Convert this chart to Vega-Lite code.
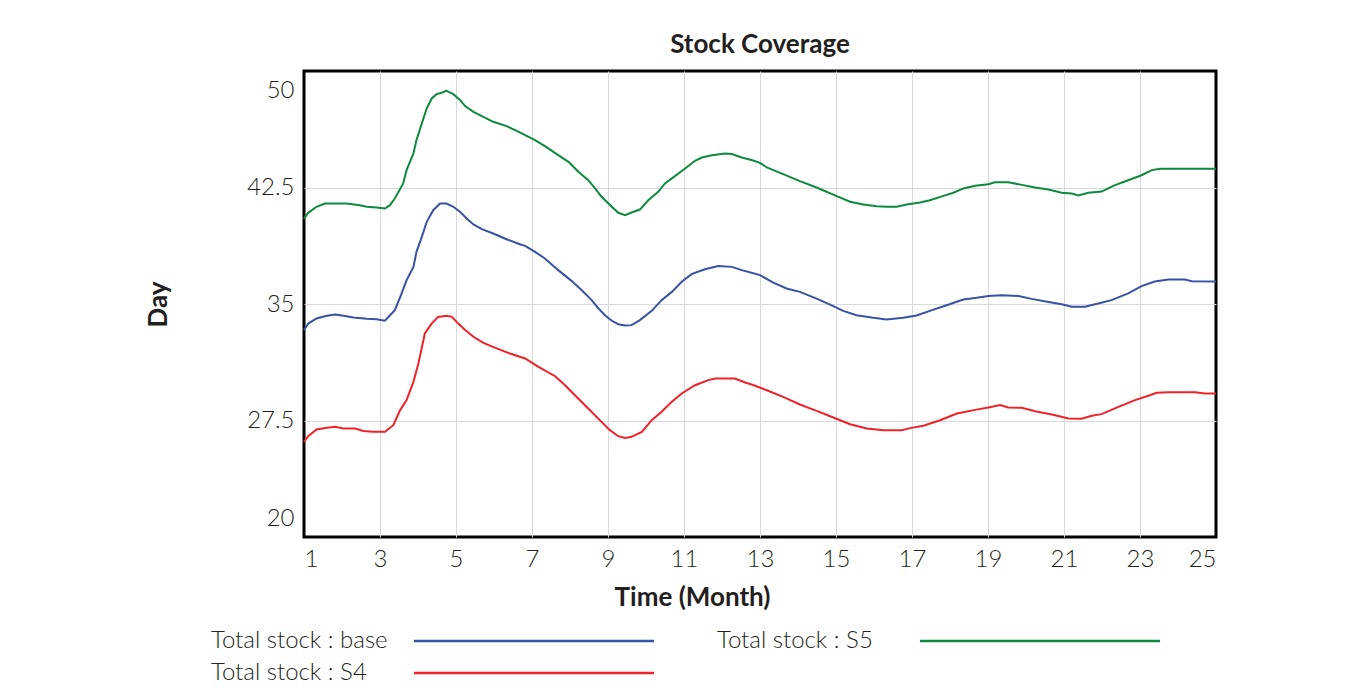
{
  "$schema": "https://vega.github.io/schema/vega-lite/v6.json",
  "width": 912,
  "height": 466,
  "autosize": {"type": "none"},
  "padding": {"left": 304, "top": 71, "right": 144, "bottom": 153},
  "background": "white",
  "title": {"text": "Stock Coverage", "font": "Lato", "fontWeight": "bold", "fontSize": 26, "color": "#231f20", "anchor": "middle", "offset": 13},
  "config": {
    "view": {"stroke": "black", "strokeWidth": 3},
    "axis": {"labelFont": "Lato", "labelFontWeight": 300, "labelFontSize": 24, "labelColor": "#231f20", "titleFont": "Lato", "titleFontWeight": "bold", "titleFontSize": 26, "titleColor": "#231f20", "domain": false, "ticks": false, "gridColor": "#d9d9d9", "gridWidth": 1}
  },
  "data": {"values": [
    {"s": "Total stock : S5", "m": 1.0, "v": 40.5}, {"s": "Total stock : S5", "m": 1.11, "v": 40.87}, {"s": "Total stock : S5", "m": 1.33, "v": 41.26}, {"s": "Total stock : S5", "m": 1.55, "v": 41.47}, {"s": "Total stock : S5", "m": 1.77, "v": 41.47}, {"s": "Total stock : S5", "m": 2.12, "v": 41.47}, {"s": "Total stock : S5", "m": 2.47, "v": 41.36}, {"s": "Total stock : S5", "m": 2.65, "v": 41.26}, {"s": "Total stock : S5", "m": 2.91, "v": 41.21}, {"s": "Total stock : S5", "m": 3.13, "v": 41.15}, {"s": "Total stock : S5", "m": 3.26, "v": 41.36}, {"s": "Total stock : S5", "m": 3.39, "v": 41.79}, {"s": "Total stock : S5", "m": 3.61, "v": 42.76}, {"s": "Total stock : S5", "m": 3.7, "v": 43.62}, {"s": "Total stock : S5", "m": 3.88, "v": 44.69}, {"s": "Total stock : S5", "m": 3.96, "v": 45.55}, {"s": "Total stock : S5", "m": 4.1, "v": 46.62}, {"s": "Total stock : S5", "m": 4.23, "v": 47.59}, {"s": "Total stock : S5", "m": 4.36, "v": 48.23}, {"s": "Total stock : S5", "m": 4.49, "v": 48.51}, {"s": "Total stock : S5", "m": 4.62, "v": 48.6}, {"s": "Total stock : S5", "m": 4.75, "v": 48.72}, {"s": "Total stock : S5", "m": 4.93, "v": 48.51}, {"s": "Total stock : S5", "m": 5.11, "v": 48.12}, {"s": "Total stock : S5", "m": 5.24, "v": 47.74}, {"s": "Total stock : S5", "m": 5.46, "v": 47.37}, {"s": "Total stock : S5", "m": 5.72, "v": 47.05}, {"s": "Total stock : S5", "m": 5.98, "v": 46.73}, {"s": "Total stock : S5", "m": 6.33, "v": 46.45}, {"s": "Total stock : S5", "m": 6.6, "v": 46.15}, {"s": "Total stock : S5", "m": 6.82, "v": 45.87}, {"s": "Total stock : S5", "m": 7.08, "v": 45.55}, {"s": "Total stock : S5", "m": 7.34, "v": 45.16}, {"s": "Total stock : S5", "m": 7.69, "v": 44.58}, {"s": "Total stock : S5", "m": 7.96, "v": 44.15}, {"s": "Total stock : S5", "m": 8.22, "v": 43.51}, {"s": "Total stock : S5", "m": 8.48, "v": 42.97}, {"s": "Total stock : S5", "m": 8.66, "v": 42.44}, {"s": "Total stock : S5", "m": 8.83, "v": 41.9}, {"s": "Total stock : S5", "m": 9.1, "v": 41.26}, {"s": "Total stock : S5", "m": 9.27, "v": 40.87}, {"s": "Total stock : S5", "m": 9.45, "v": 40.72}, {"s": "Total stock : S5", "m": 9.62, "v": 40.89}, {"s": "Total stock : S5", "m": 9.84, "v": 41.08}, {"s": "Total stock : S5", "m": 10.06, "v": 41.68}, {"s": "Total stock : S5", "m": 10.32, "v": 42.22}, {"s": "Total stock : S5", "m": 10.5, "v": 42.76}, {"s": "Total stock : S5", "m": 10.76, "v": 43.23}, {"s": "Total stock : S5", "m": 11.03, "v": 43.72}, {"s": "Total stock : S5", "m": 11.29, "v": 44.22}, {"s": "Total stock : S5", "m": 11.47, "v": 44.43}, {"s": "Total stock : S5", "m": 11.73, "v": 44.58}, {"s": "Total stock : S5", "m": 12.08, "v": 44.69}, {"s": "Total stock : S5", "m": 12.26, "v": 44.65}, {"s": "Total stock : S5", "m": 12.52, "v": 44.43}, {"s": "Total stock : S5", "m": 12.8, "v": 44.25}, {"s": "Total stock : S5", "m": 13.0, "v": 44.09}, {"s": "Total stock : S5", "m": 13.18, "v": 43.79}, {"s": "Total stock : S5", "m": 13.61, "v": 43.36}, {"s": "Total stock : S5", "m": 14.05, "v": 42.91}, {"s": "Total stock : S5", "m": 14.49, "v": 42.5}, {"s": "Total stock : S5", "m": 15.02, "v": 41.94}, {"s": "Total stock : S5", "m": 15.37, "v": 41.58}, {"s": "Total stock : S5", "m": 15.72, "v": 41.41}, {"s": "Total stock : S5", "m": 16.07, "v": 41.3}, {"s": "Total stock : S5", "m": 16.33, "v": 41.26}, {"s": "Total stock : S5", "m": 16.6, "v": 41.26}, {"s": "Total stock : S5", "m": 16.86, "v": 41.41}, {"s": "Total stock : S5", "m": 17.21, "v": 41.53}, {"s": "Total stock : S5", "m": 17.47, "v": 41.68}, {"s": "Total stock : S5", "m": 17.83, "v": 41.96}, {"s": "Total stock : S5", "m": 18.09, "v": 42.16}, {"s": "Total stock : S5", "m": 18.35, "v": 42.44}, {"s": "Total stock : S5", "m": 18.66, "v": 42.61}, {"s": "Total stock : S5", "m": 19.01, "v": 42.71}, {"s": "Total stock : S5", "m": 19.18, "v": 42.84}, {"s": "Total stock : S5", "m": 19.53, "v": 42.84}, {"s": "Total stock : S5", "m": 19.89, "v": 42.67}, {"s": "Total stock : S5", "m": 20.24, "v": 42.5}, {"s": "Total stock : S5", "m": 20.59, "v": 42.37}, {"s": "Total stock : S5", "m": 20.94, "v": 42.16}, {"s": "Total stock : S5", "m": 21.2, "v": 42.11}, {"s": "Total stock : S5", "m": 21.38, "v": 41.98}, {"s": "Total stock : S5", "m": 21.64, "v": 42.16}, {"s": "Total stock : S5", "m": 21.99, "v": 42.24}, {"s": "Total stock : S5", "m": 22.34, "v": 42.65}, {"s": "Total stock : S5", "m": 22.69, "v": 42.97}, {"s": "Total stock : S5", "m": 23.04, "v": 43.29}, {"s": "Total stock : S5", "m": 23.31, "v": 43.62}, {"s": "Total stock : S5", "m": 23.53, "v": 43.7}, {"s": "Total stock : S5", "m": 23.92, "v": 43.7}, {"s": "Total stock : S5", "m": 25.0, "v": 43.7},
    {"s": "Total stock : base", "m": 1.0, "v": 33.32}, {"s": "Total stock : base", "m": 1.11, "v": 33.74}, {"s": "Total stock : base", "m": 1.33, "v": 34.07}, {"s": "Total stock : base", "m": 1.6, "v": 34.24}, {"s": "Total stock : base", "m": 1.82, "v": 34.32}, {"s": "Total stock : base", "m": 2.04, "v": 34.24}, {"s": "Total stock : base", "m": 2.3, "v": 34.13}, {"s": "Total stock : base", "m": 2.65, "v": 34.05}, {"s": "Total stock : base", "m": 2.91, "v": 34.02}, {"s": "Total stock : base", "m": 3.13, "v": 33.92}, {"s": "Total stock : base", "m": 3.39, "v": 34.6}, {"s": "Total stock : base", "m": 3.57, "v": 35.68}, {"s": "Total stock : base", "m": 3.7, "v": 36.53}, {"s": "Total stock : base", "m": 3.88, "v": 37.39}, {"s": "Total stock : base", "m": 3.96, "v": 38.36}, {"s": "Total stock : base", "m": 4.1, "v": 39.32}, {"s": "Total stock : base", "m": 4.23, "v": 40.29}, {"s": "Total stock : base", "m": 4.4, "v": 41.04}, {"s": "Total stock : base", "m": 4.58, "v": 41.47}, {"s": "Total stock : base", "m": 4.75, "v": 41.47}, {"s": "Total stock : base", "m": 4.93, "v": 41.26}, {"s": "Total stock : base", "m": 5.11, "v": 40.93}, {"s": "Total stock : base", "m": 5.28, "v": 40.5}, {"s": "Total stock : base", "m": 5.46, "v": 40.12}, {"s": "Total stock : base", "m": 5.68, "v": 39.82}, {"s": "Total stock : base", "m": 5.98, "v": 39.54}, {"s": "Total stock : base", "m": 6.33, "v": 39.17}, {"s": "Total stock : base", "m": 6.68, "v": 38.85}, {"s": "Total stock : base", "m": 6.82, "v": 38.74}, {"s": "Total stock : base", "m": 7.08, "v": 38.36}, {"s": "Total stock : base", "m": 7.34, "v": 37.93}, {"s": "Total stock : base", "m": 7.69, "v": 37.18}, {"s": "Total stock : base", "m": 8.04, "v": 36.49}, {"s": "Total stock : base", "m": 8.31, "v": 35.89}, {"s": "Total stock : base", "m": 8.57, "v": 35.25}, {"s": "Total stock : base", "m": 8.75, "v": 34.71}, {"s": "Total stock : base", "m": 8.92, "v": 34.28}, {"s": "Total stock : base", "m": 9.1, "v": 33.92}, {"s": "Total stock : base", "m": 9.27, "v": 33.7}, {"s": "Total stock : base", "m": 9.45, "v": 33.62}, {"s": "Total stock : base", "m": 9.62, "v": 33.64}, {"s": "Total stock : base", "m": 9.84, "v": 33.96}, {"s": "Total stock : base", "m": 10.15, "v": 34.56}, {"s": "Total stock : base", "m": 10.41, "v": 35.25}, {"s": "Total stock : base", "m": 10.68, "v": 35.78}, {"s": "Total stock : base", "m": 10.94, "v": 36.43}, {"s": "Total stock : base", "m": 11.2, "v": 36.92}, {"s": "Total stock : base", "m": 11.55, "v": 37.24}, {"s": "Total stock : base", "m": 11.9, "v": 37.44}, {"s": "Total stock : base", "m": 12.26, "v": 37.39}, {"s": "Total stock : base", "m": 12.52, "v": 37.18}, {"s": "Total stock : base", "m": 12.8, "v": 37.0}, {"s": "Total stock : base", "m": 13.0, "v": 36.86}, {"s": "Total stock : base", "m": 13.35, "v": 36.38}, {"s": "Total stock : base", "m": 13.7, "v": 36.0}, {"s": "Total stock : base", "m": 14.05, "v": 35.78}, {"s": "Total stock : base", "m": 14.49, "v": 35.35}, {"s": "Total stock : base", "m": 14.93, "v": 34.86}, {"s": "Total stock : base", "m": 15.19, "v": 34.56}, {"s": "Total stock : base", "m": 15.54, "v": 34.28}, {"s": "Total stock : base", "m": 15.98, "v": 34.11}, {"s": "Total stock : base", "m": 16.33, "v": 34.0}, {"s": "Total stock : base", "m": 16.77, "v": 34.11}, {"s": "Total stock : base", "m": 17.12, "v": 34.26}, {"s": "Total stock : base", "m": 17.47, "v": 34.56}, {"s": "Total stock : base", "m": 17.91, "v": 34.92}, {"s": "Total stock : base", "m": 18.35, "v": 35.29}, {"s": "Total stock : base", "m": 18.7, "v": 35.4}, {"s": "Total stock : base", "m": 19.01, "v": 35.52}, {"s": "Total stock : base", "m": 19.36, "v": 35.56}, {"s": "Total stock : base", "m": 19.8, "v": 35.52}, {"s": "Total stock : base", "m": 20.15, "v": 35.33}, {"s": "Total stock : base", "m": 20.59, "v": 35.13}, {"s": "Total stock : base", "m": 20.94, "v": 34.98}, {"s": "Total stock : base", "m": 21.2, "v": 34.82}, {"s": "Total stock : base", "m": 21.55, "v": 34.82}, {"s": "Total stock : base", "m": 21.9, "v": 35.03}, {"s": "Total stock : base", "m": 22.25, "v": 35.25}, {"s": "Total stock : base", "m": 22.69, "v": 35.68}, {"s": "Total stock : base", "m": 23.04, "v": 36.15}, {"s": "Total stock : base", "m": 23.39, "v": 36.45}, {"s": "Total stock : base", "m": 23.75, "v": 36.58}, {"s": "Total stock : base", "m": 24.18, "v": 36.58}, {"s": "Total stock : base", "m": 24.36, "v": 36.47}, {"s": "Total stock : base", "m": 25.0, "v": 36.45},
    {"s": "Total stock : S4", "m": 1.0, "v": 26.13}, {"s": "Total stock : S4", "m": 1.11, "v": 26.49}, {"s": "Total stock : S4", "m": 1.33, "v": 26.92}, {"s": "Total stock : S4", "m": 1.6, "v": 27.03}, {"s": "Total stock : S4", "m": 1.82, "v": 27.09}, {"s": "Total stock : S4", "m": 2.04, "v": 26.98}, {"s": "Total stock : S4", "m": 2.35, "v": 26.98}, {"s": "Total stock : S4", "m": 2.56, "v": 26.83}, {"s": "Total stock : S4", "m": 2.82, "v": 26.77}, {"s": "Total stock : S4", "m": 3.13, "v": 26.77}, {"s": "Total stock : S4", "m": 3.35, "v": 27.2}, {"s": "Total stock : S4", "m": 3.53, "v": 28.17}, {"s": "Total stock : S4", "m": 3.7, "v": 28.81}, {"s": "Total stock : S4", "m": 3.88, "v": 29.99}, {"s": "Total stock : S4", "m": 4.01, "v": 31.17}, {"s": "Total stock : S4", "m": 4.18, "v": 33.1}, {"s": "Total stock : S4", "m": 4.36, "v": 33.74}, {"s": "Total stock : S4", "m": 4.53, "v": 34.17}, {"s": "Total stock : S4", "m": 4.75, "v": 34.24}, {"s": "Total stock : S4", "m": 4.89, "v": 34.17}, {"s": "Total stock : S4", "m": 5.06, "v": 33.74}, {"s": "Total stock : S4", "m": 5.24, "v": 33.32}, {"s": "Total stock : S4", "m": 5.46, "v": 32.89}, {"s": "Total stock : S4", "m": 5.72, "v": 32.5}, {"s": "Total stock : S4", "m": 6.07, "v": 32.14}, {"s": "Total stock : S4", "m": 6.42, "v": 31.81}, {"s": "Total stock : S4", "m": 6.82, "v": 31.49}, {"s": "Total stock : S4", "m": 7.17, "v": 30.95}, {"s": "Total stock : S4", "m": 7.61, "v": 30.35}, {"s": "Total stock : S4", "m": 7.87, "v": 29.77}, {"s": "Total stock : S4", "m": 8.13, "v": 29.13}, {"s": "Total stock : S4", "m": 8.48, "v": 28.27}, {"s": "Total stock : S4", "m": 8.83, "v": 27.41}, {"s": "Total stock : S4", "m": 9.05, "v": 26.88}, {"s": "Total stock : S4", "m": 9.27, "v": 26.49}, {"s": "Total stock : S4", "m": 9.45, "v": 26.38}, {"s": "Total stock : S4", "m": 9.62, "v": 26.45}, {"s": "Total stock : S4", "m": 9.89, "v": 26.77}, {"s": "Total stock : S4", "m": 10.15, "v": 27.52}, {"s": "Total stock : S4", "m": 10.41, "v": 28.06}, {"s": "Total stock : S4", "m": 10.68, "v": 28.7}, {"s": "Total stock : S4", "m": 10.94, "v": 29.24}, {"s": "Total stock : S4", "m": 11.29, "v": 29.77}, {"s": "Total stock : S4", "m": 11.64, "v": 30.1}, {"s": "Total stock : S4", "m": 11.82, "v": 30.2}, {"s": "Total stock : S4", "m": 12.34, "v": 30.2}, {"s": "Total stock : S4", "m": 12.61, "v": 29.95}, {"s": "Total stock : S4", "m": 12.8, "v": 29.8}, {"s": "Total stock : S4", "m": 13.18, "v": 29.45}, {"s": "Total stock : S4", "m": 13.61, "v": 29.02}, {"s": "Total stock : S4", "m": 14.05, "v": 28.53}, {"s": "Total stock : S4", "m": 14.49, "v": 28.12}, {"s": "Total stock : S4", "m": 14.93, "v": 27.69}, {"s": "Total stock : S4", "m": 15.37, "v": 27.26}, {"s": "Total stock : S4", "m": 15.81, "v": 26.98}, {"s": "Total stock : S4", "m": 16.25, "v": 26.88}, {"s": "Total stock : S4", "m": 16.73, "v": 26.88}, {"s": "Total stock : S4", "m": 16.95, "v": 27.01}, {"s": "Total stock : S4", "m": 17.3, "v": 27.16}, {"s": "Total stock : S4", "m": 17.74, "v": 27.52}, {"s": "Total stock : S4", "m": 18.18, "v": 27.95}, {"s": "Total stock : S4", "m": 18.7, "v": 28.2}, {"s": "Total stock : S4", "m": 19.01, "v": 28.34}, {"s": "Total stock : S4", "m": 19.32, "v": 28.49}, {"s": "Total stock : S4", "m": 19.53, "v": 28.34}, {"s": "Total stock : S4", "m": 19.89, "v": 28.32}, {"s": "Total stock : S4", "m": 20.24, "v": 28.1}, {"s": "Total stock : S4", "m": 20.68, "v": 27.89}, {"s": "Total stock : S4", "m": 21.12, "v": 27.63}, {"s": "Total stock : S4", "m": 21.46, "v": 27.61}, {"s": "Total stock : S4", "m": 21.73, "v": 27.8}, {"s": "Total stock : S4", "m": 21.99, "v": 27.91}, {"s": "Total stock : S4", "m": 22.43, "v": 28.38}, {"s": "Total stock : S4", "m": 22.87, "v": 28.81}, {"s": "Total stock : S4", "m": 23.22, "v": 29.09}, {"s": "Total stock : S4", "m": 23.44, "v": 29.28}, {"s": "Total stock : S4", "m": 23.75, "v": 29.32}, {"s": "Total stock : S4", "m": 24.45, "v": 29.32}, {"s": "Total stock : S4", "m": 24.71, "v": 29.24}, {"s": "Total stock : S4", "m": 25.0, "v": 29.24}
  ]},
  "mark": {"type": "line", "strokeWidth": 2, "interpolate": "linear"},
  "encoding": {
    "x": {"field": "m", "type": "quantitative", "scale": {"domain": [1, 25], "nice": false, "zero": false},
      "axis": {"title": "Time (Month)", "values": [1, 3, 5, 7, 9, 11, 13, 15, 17, 19, 21, 23, 25], "format": "d", "labelPadding": 10, "titleX": 388, "titleY": 60, "titleBaseline": "middle",
        "gridColor": {"condition": {"test": "datum.value == 1 || datum.value == 25", "value": "transparent"}, "value": "#d9d9d9"}}},
    "y": {"field": "v", "type": "quantitative", "scale": {"domain": [20, 50], "nice": false, "zero": false},
      "axis": {"title": "Day", "values": [20, 27.5, 35, 42.5, 50], "format": ".1~f", "labelPadding": 10, "labelFlush": true, "labelFlushOffset": -7, "titleX": -146, "titleY": 233, "titleAngle": -90, "titleAlign": "center", "titleBaseline": "middle",
        "gridColor": {"condition": {"test": "datum.value == 20 || datum.value == 50", "value": "transparent"}, "value": "#d9d9d9"}}},
    "color": {"field": "s", "type": "nominal",
      "scale": {"domain": ["Total stock : base", "Total stock : S5", "Total stock : S4"], "range": ["#3752a6", "#0e8a3e", "#ee2229"]},
      "legend": {"title": null, "orient": "none", "direction": "horizontal", "legendX": 218, "legendY": 558, "columns": 2, "symbolType": "M-20,0H20", "symbolSize": 144, "symbolStrokeWidth": 2.5, "symbolFillColor": "transparent", "labelFont": "Lato", "labelFontWeight": 300, "labelFontSize": 24, "labelColor": "#231f20", "labelAlign": "left", "labelOffset": -335, "labelLimit": 0, "columnPadding": 58, "rowPadding": 8}}
  }
}
